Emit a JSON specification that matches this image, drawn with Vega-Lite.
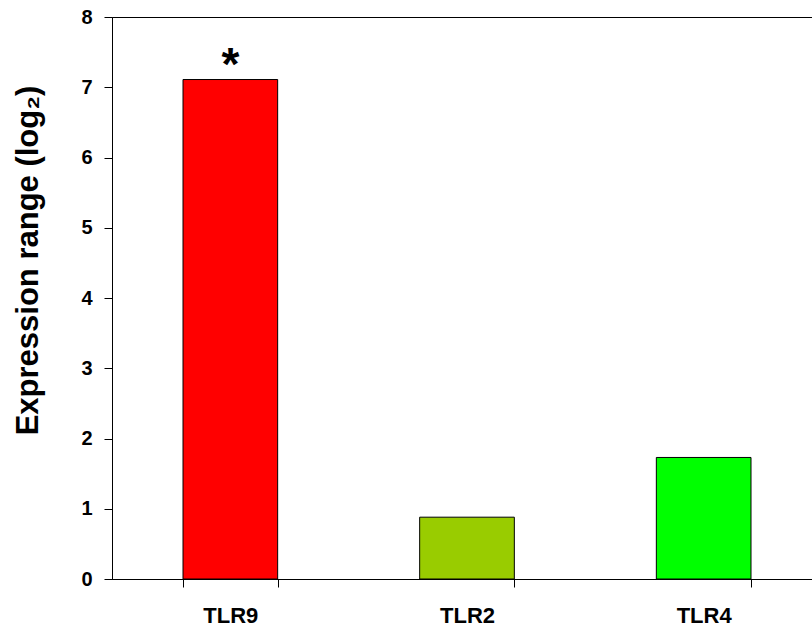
{
  "$schema": "https://vega.github.io/schema/vega-lite/v6.json",
  "autosize": "none",
  "padding": {"left": 112, "top": 17, "right": 0, "bottom": 52},
  "width": 710,
  "height": 562,
  "background": "white",
  "config": {
    "view": {"stroke": "black", "strokeWidth": 1},
    "font": "Liberation Sans"
  },
  "data": {
    "values": [
      {"gene": "TLR9", "value": 7.11, "sig": "*"},
      {"gene": "TLR2", "value": 0.88, "sig": ""},
      {"gene": "TLR4", "value": 1.73, "sig": ""}
    ]
  },
  "encoding": {
    "x": {
      "field": "gene",
      "type": "nominal",
      "sort": ["TLR9", "TLR2", "TLR4"],
      "scale": {"paddingInner": 0.6, "paddingOuter": 0.3},
      "axis": {
        "title": null,
        "labelAngle": 0,
        "labelFont": "Liberation Sans",
        "labelFontWeight": "bold",
        "labelFontSize": 22,
        "labelColor": "black",
        "labelPadding": 18,
        "tickBand": "extent",
        "tickSize": 8,
        "tickColor": "black",
        "domainColor": "black"
      }
    },
    "y": {
      "field": "value",
      "type": "quantitative",
      "scale": {"domain": [0, 8], "nice": false},
      "axis": {
        "title": "Expression range (log₂)",
        "titleFont": "Liberation Sans",
        "titleFontWeight": "bold",
        "titleFontSize": 31,
        "titleColor": "black",
        "titlePadding": 36,
        "titleY": 243,
        "values": [0, 1, 2, 3, 4, 5, 6, 7, 8],
        "grid": false,
        "labelFont": "Liberation Sans",
        "labelFontWeight": "bold",
        "labelFontSize": 20,
        "labelColor": "black",
        "labelPadding": 12,
        "tickSize": 8,
        "tickColor": "black",
        "domainColor": "black"
      }
    }
  },
  "layer": [
    {
      "mark": {"type": "bar", "stroke": "black", "strokeWidth": 1},
      "encoding": {
        "color": {
          "field": "gene",
          "type": "nominal",
          "scale": {"domain": ["TLR9", "TLR2", "TLR4"], "range": ["#FF0000", "#99CC00", "#00FF00"]},
          "legend": null
        }
      }
    },
    {
      "mark": {"type": "text", "fontSize": 46, "fontWeight": "bold", "font": "Liberation Sans", "baseline": "alphabetic", "dy": 0, "color": "black"},
      "encoding": {"text": {"field": "sig"}}
    }
  ]
}
